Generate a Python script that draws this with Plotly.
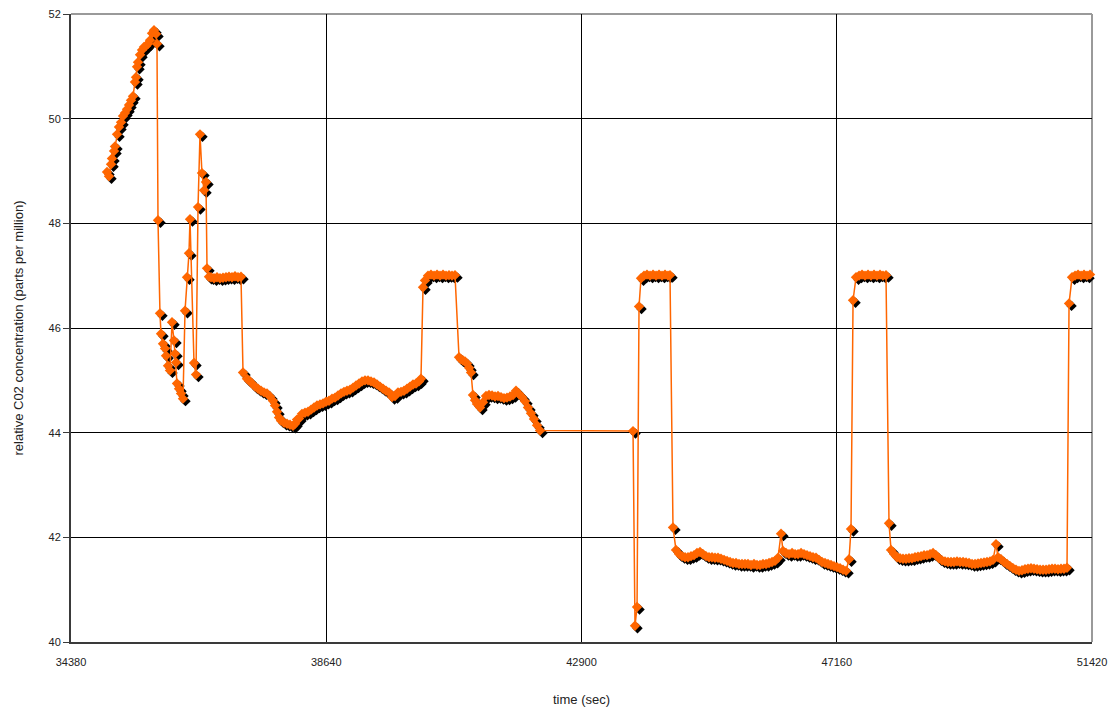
import plotly.graph_objects as go

# ---------------- data ----------------
x_tick_vals = [34380, 38640, 42900, 47160, 51420]
y_tick_vals = [40, 42, 44, 46, 48, 50, 52]

# rise to the first peak
seg_a_time = [34981, 35014, 35048, 35064, 35098, 35114, 35148, 35181, 35215, 35248,
              35281, 35315, 35348, 35381, 35415, 35448, 35465, 35482, 35498, 35532,
              35565, 35598, 35632, 35665, 35699, 35732, 35765, 35799, 35815]
seg_a_ppm = [48.98, 48.90, 49.13, 49.24, 49.38, 49.47, 49.70, 49.84, 49.93, 50.05,
             50.11, 50.18, 50.26, 50.35, 50.43, 50.70, 50.79, 50.99, 51.08, 51.22,
             51.31, 51.37, 51.39, 51.43, 51.50, 51.63, 51.69, 51.62, 51.43]

# oscillating drop
seg_b_time = [35832, 35865, 35882, 35916, 35949, 35966, 35999, 36032, 36066, 36099,
              36116, 36133, 36149, 36183, 36216, 36249, 36283, 36316, 36349, 36366,
              36433, 36466, 36500, 36533, 36566, 36600, 36633, 36650, 36683]
seg_b_ppm = [48.06, 46.28, 45.89, 45.70, 45.61, 45.47, 45.28, 45.19, 46.11, 45.76,
             45.51, 45.34, 44.94, 44.84, 44.75, 44.65, 46.33, 46.97, 47.43, 48.08,
             45.33, 45.11, 48.31, 49.70, 48.96, 48.63, 48.79, 47.14, 46.98]

# first 47 ppm plateau
seg_c_time = [36717, 36767, 36817, 36867, 36917, 36967, 37017, 37067, 37117, 37167, 37217]
seg_c_ppm = [46.97, 46.95, 46.97, 46.95, 46.96, 46.97, 46.98, 46.97, 46.99, 46.97, 46.98]

# slow dip and recovery around 44-45 ppm
seg_d_time = [37251, 37317, 37351, 37401, 37451, 37501, 37551, 37601, 37651, 37701,
              37751, 37785, 37818, 37852, 37885, 37935, 37985, 38035, 38085, 38119,
              38152, 38185, 38235, 38285, 38336, 38386, 38436, 38486, 38536, 38586,
              38636, 38686, 38736, 38786, 38836, 38886, 38936, 38986, 39037, 39087,
              39137, 39187, 39237, 39287, 39337, 39387, 39437, 39487, 39537, 39587,
              39637, 39687, 39738, 39788, 39838, 39888, 39938, 39988, 40038, 40088,
              40138, 40188, 40221]
seg_d_ppm = [45.15, 45.03, 45.00, 44.94, 44.88, 44.84, 44.80, 44.77, 44.75, 44.69,
             44.61, 44.52, 44.40, 44.29, 44.23, 44.19, 44.17, 44.15, 44.13, 44.17,
             44.25, 44.27, 44.36, 44.38, 44.40, 44.44, 44.48, 44.52, 44.54, 44.56,
             44.59, 44.61, 44.65, 44.67, 44.71, 44.75, 44.78, 44.80, 44.82, 44.86,
             44.90, 44.94, 44.98, 45.00, 45.00, 44.98, 44.96, 44.92, 44.88, 44.84,
             44.80, 44.77, 44.68, 44.70, 44.77, 44.78, 44.80, 44.84, 44.88, 44.92,
             44.94, 44.98, 45.03]

# second plateau
seg_e_time = [40255, 40288, 40338, 40388, 40439, 40489, 40539, 40589, 40639, 40689, 40739, 40789]
seg_e_ppm = [46.78, 46.91, 47.00, 47.02, 47.00, 47.02, 47.00, 47.02, 47.00, 47.01, 47.00, 47.01]

# step down to 44 ppm
seg_f_time = [40856, 40889, 40922, 40956, 40989, 41023, 41056, 41089, 41123, 41156,
              41206, 41256, 41306, 41356, 41407, 41457, 41507, 41557, 41607, 41657,
              41707, 41757, 41807, 41857, 41907, 41957, 42007, 42057, 42107, 42158, 42208]
seg_f_ppm = [45.44, 45.40, 45.38, 45.36, 45.32, 45.24, 45.15, 44.72, 44.62, 44.55,
             44.48, 44.58, 44.70, 44.72, 44.71, 44.69, 44.70, 44.68, 44.66, 44.67,
             44.69, 44.72, 44.80, 44.74, 44.68, 44.60, 44.48, 44.37, 44.26, 44.14, 44.04]

# after the logging gap: dip to 40, third plateau
seg_g_time = [43760, 43793, 43827, 43860, 43893, 43943, 43993, 44044, 44094, 44144,
              44194, 44244, 44294, 44344, 44377, 44427]
seg_g_ppm = [44.03, 40.31, 40.67, 46.41, 46.95, 47.00, 47.02, 47.00, 47.02, 47.00,
             47.02, 47.00, 47.02, 47.00, 47.01, 42.19]

# low level around 41.5 ppm
seg_h_time = [44477, 44528, 44578, 44628, 44678, 44728, 44778, 44828, 44878, 44928,
              44978, 45028, 45078, 45128, 45178, 45228, 45279, 45329, 45379, 45429,
              45479, 45529, 45579, 45629, 45679, 45729, 45779, 45829, 45879, 45929,
              45980, 46030, 46080, 46130, 46180, 46230, 46263, 46313, 46363, 46414,
              46464, 46514, 46564, 46614, 46664, 46714, 46764, 46814, 46864, 46914,
              46964, 47014, 47064, 47114, 47165, 47215, 47265, 47315, 47365, 47398]
seg_h_ppm = [41.76, 41.68, 41.64, 41.62, 41.62, 41.64, 41.66, 41.70, 41.72, 41.68,
             41.64, 41.62, 41.62, 41.61, 41.61, 41.59, 41.57, 41.55, 41.53, 41.51,
             41.51, 41.49, 41.49, 41.49, 41.49, 41.47, 41.49, 41.47, 41.47, 41.49,
             41.49, 41.51, 41.53, 41.55, 41.61, 42.07, 41.74, 41.70, 41.68, 41.70,
             41.68, 41.68, 41.70, 41.68, 41.66, 41.64, 41.62, 41.61, 41.57, 41.53,
             41.51, 41.49, 41.47, 41.45, 41.43, 41.41, 41.38, 41.36, 41.58, 42.16]

# fourth plateau
seg_i_time = [47432, 47482, 47532, 47582, 47632, 47682, 47732, 47782, 47832, 47882,
              47932, 47982, 48032]
seg_i_ppm = [46.53, 46.97, 47.00, 47.02, 47.00, 47.02, 47.00, 47.02, 47.00, 47.02,
             47.00, 47.01, 42.27]

# second low level
seg_j_time = [48066, 48116, 48166, 48216, 48266, 48316, 48366, 48416, 48466, 48516,
              48567, 48617, 48667, 48717, 48767, 48817, 48867, 48917, 48967, 49017,
              49067, 49117, 49167, 49217, 49268, 49318, 49368, 49418, 49468, 49518,
              49568, 49618, 49668, 49718, 49768, 49818, 49852, 49902, 49952, 50002,
              50052, 50102, 50152, 50202, 50252, 50302, 50352, 50402, 50452, 50503,
              50553, 50603, 50653, 50703, 50753, 50803, 50853, 50903, 50953, 51003]
seg_j_ppm = [41.76, 41.68, 41.62, 41.60, 41.59, 41.59, 41.60, 41.60, 41.62, 41.63,
             41.64, 41.66, 41.66, 41.68, 41.70, 41.66, 41.60, 41.56, 41.54, 41.53,
             41.53, 41.53, 41.54, 41.53, 41.53, 41.52, 41.51, 41.49, 41.49, 41.50,
             41.51, 41.52, 41.53, 41.54, 41.57, 41.87, 41.62, 41.58, 41.53, 41.49,
             41.45, 41.41, 41.38, 41.36, 41.37, 41.39, 41.40, 41.41, 41.40, 41.39,
             41.38, 41.38, 41.38, 41.39, 41.40, 41.40, 41.39, 41.40, 41.40, 41.42]

# last plateau
seg_k_time = [51037, 51087, 51137, 51187, 51237, 51287, 51337, 51387]
seg_k_ppm = [46.47, 46.97, 47.00, 47.02, 47.00, 47.02, 47.00, 47.02]

time_sec = (seg_a_time + seg_b_time + seg_c_time + seg_d_time + seg_e_time + seg_f_time
            + seg_g_time + seg_h_time + seg_i_time + seg_j_time + seg_k_time)
co2_ppm = (seg_a_ppm + seg_b_ppm + seg_c_ppm + seg_d_ppm + seg_e_ppm + seg_f_ppm
           + seg_g_ppm + seg_h_ppm + seg_i_ppm + seg_j_ppm + seg_k_ppm)

# ---------------- layout constants ----------------
W, H = 1117, 713
ML, MR, MT, MB = 71, 25, 14, 71
X0, X1 = x_tick_vals[0], x_tick_vals[-1]
Y0, Y1 = y_tick_vals[0], y_tick_vals[-1]
PW, PH = W - ML - MR, H - MT - MB
SHADOW_PX = 2.5
dx = SHADOW_PX * (X1 - X0) / PW
dy = SHADOW_PX * (Y1 - Y0) / PH

ORANGE = "#FF6600"
FONT = "Liberation Sans, Arial, sans-serif"
MSIZE = 8

fig = go.Figure()

# base subplot: carries the visible axes and grid (series drawn invisibly here)
fig.add_trace(go.Scatter(
    x=time_sec, y=co2_ppm, mode="lines", line=dict(color=ORANGE, width=1),
    opacity=0, hoverinfo="skip", showlegend=False,
))
# black drop shadow of each marker (same data, overlay axes offset by a couple of pixels)
fig.add_trace(go.Scatter(
    x=time_sec, y=co2_ppm, mode="markers",
    marker=dict(symbol="diamond", size=MSIZE, color="black", line=dict(width=0)),
    xaxis="x2", yaxis="y2", cliponaxis=False, hoverinfo="skip", showlegend=False,
))
# orange series
fig.add_trace(go.Scatter(
    x=time_sec, y=co2_ppm, mode="lines+markers",
    line=dict(color=ORANGE, width=1.5),
    marker=dict(symbol="diamond", size=MSIZE, color=ORANGE, line=dict(width=0)),
    xaxis="x3", yaxis="y3", cliponaxis=False, showlegend=False,
))

fig.update_layout(
    width=W, height=H, autosize=False,
    margin=dict(l=ML, r=MR, t=MT, b=MB, pad=0),
    paper_bgcolor="white", plot_bgcolor="white",
    font=dict(family=FONT, size=11, color="#222222"),
    showlegend=False,
    xaxis=dict(
        range=[X0, X1], tickvals=x_tick_vals, ticktext=[str(v) for v in x_tick_vals],
        showgrid=True, gridcolor="black", gridwidth=1, zeroline=False,
        showline=True, linecolor="#3a3a3a", linewidth=2,
        ticks="outside", ticklen=9, tickcolor="rgba(0,0,0,0)",
        tickfont=dict(size=11, family=FONT, color="#222222"),
        title=dict(text="time (sec)", font=dict(size=13, family=FONT, color="#222222"), standoff=28),
        automargin=False, fixedrange=True,
    ),
    yaxis=dict(
        range=[Y0, Y1], tickvals=y_tick_vals, ticktext=[str(v) for v in y_tick_vals],
        showgrid=True, gridcolor="black", gridwidth=1, zeroline=False,
        showline=True, linecolor="#3a3a3a", linewidth=2,
        ticks="outside", ticklen=6, tickcolor="#3a3a3a", tickwidth=1,
        tickfont=dict(size=11, family=FONT, color="#222222"),
        title=dict(text="relative C02 concentration (parts per million)",
                   font=dict(size=13, family=FONT, color="#222222"), standoff=22),
        automargin=False, fixedrange=True,
    ),
    xaxis2=dict(overlaying="x", anchor="y2", range=[X0 - dx, X1 - dx],
                showgrid=False, showticklabels=False, showline=False, zeroline=False, ticks="", fixedrange=True),
    yaxis2=dict(overlaying="y", anchor="x2", range=[Y0 + dy, Y1 + dy],
                showgrid=False, showticklabels=False, showline=False, zeroline=False, ticks="", fixedrange=True),
    xaxis3=dict(overlaying="x", anchor="y3", range=[X0, X1],
                showgrid=False, showticklabels=False, showline=False, zeroline=False, ticks="", fixedrange=True),
    yaxis3=dict(overlaying="y", anchor="x3", range=[Y0, Y1],
                showgrid=False, showticklabels=False, showline=False, zeroline=False, ticks="", fixedrange=True),
    shapes=[
        dict(type="line", xref="paper", yref="paper", x0=0, x1=1, y0=1, y1=1,
             line=dict(color="#9a9a9a", width=2), layer="between"),
        dict(type="line", xref="paper", yref="paper", x0=1, x1=1, y0=0, y1=1,
             line=dict(color="#9a9a9a", width=2), layer="between"),
    ],
)

fig.write_html("out.html", config={"displayModeBar": False},
               post_script="document.body.style.margin='0';")
